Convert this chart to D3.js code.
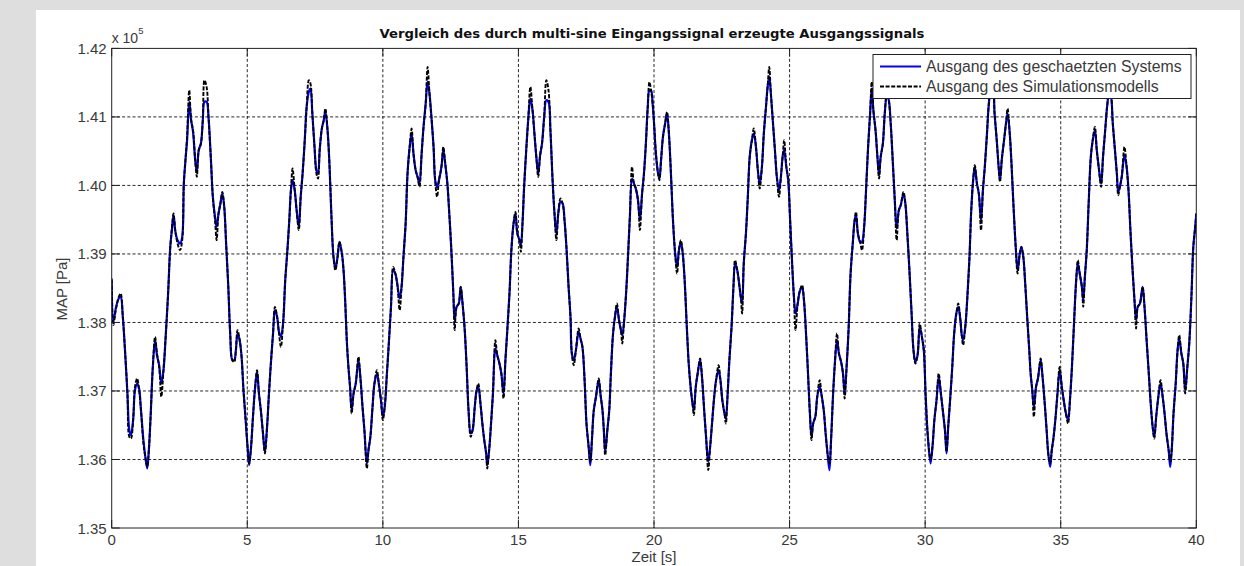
<!DOCTYPE html>
<html>
<head>
<meta charset="utf-8">
<script src="https://cdn.jsdelivr.net/npm/d3@7"></script>
<style>
body { margin: 0; background: #dedede; }
svg { display: block; }
</style>
</head>
<body>
<svg width="1244" height="566"></svg>
<script>
// Zeit [s]
var zeit = [
0.00,0.06,0.15,0.26,0.33,0.41,0.49,0.58,0.65,0.71,
0.79,0.86,0.94,1.01,1.08,1.17,1.24,1.31,1.37,1.44,
1.51,1.60,1.67,1.75,1.83,1.91,1.99,2.08,2.16,2.22,
2.28,2.35,2.43,2.52,2.60,2.66,2.72,2.78,2.86,2.93,
3.00,3.08,3.14,3.21,3.29,3.36,3.42,3.50,3.57,3.66,
3.73,3.81,3.87,3.94,4.01,4.08,4.15,4.22,4.30,4.37,
4.45,4.52,4.58,4.64,4.72,4.79,4.86,4.94,5.01,5.07,
5.14,5.21,5.28,5.36,5.43,5.50,5.58,5.65,5.73,5.80,
5.87,5.95,6.02,6.10,6.17,6.24,6.32,6.40,6.48,6.55,
6.61,6.67,6.75,6.82,6.90,6.97,7.04,7.12,7.19,7.27,
7.33,7.40,7.48,7.55,7.61,7.67,7.75,7.82,7.88,7.96,
8.03,8.10,8.18,8.25,8.33,8.40,
8.49,8.55,8.61,8.67,8.73,8.79,8.85,8.92,9.00,9.10,
9.17,9.25,9.32,9.41,9.47,9.54,9.62,9.69,9.78,9.85,
9.93,10.00,10.07,10.15,10.22,10.30,10.38,10.46,10.53,10.62,
10.69,10.76,10.84,10.91,10.99,11.06,11.13,11.21,11.28,11.35,
11.43,11.50,11.58,11.65,11.72,11.80,11.87,11.93,12.00,12.07,
12.16,12.23,12.30,12.38,12.45,12.52,12.60,12.65,12.72,12.80,
12.87,12.94,13.02,13.09,13.16,13.24,13.31,13.39,13.46,13.52,
13.60,13.67,13.74,13.81,13.85,13.92,13.99,14.06,14.15,14.22,
14.30,14.37,14.45,14.52,14.59,14.67,14.74,14.82,14.89,14.96,
15.04,15.09,15.15,15.21,15.28,15.36,15.44,15.52,15.59,15.66,
15.73,15.80,15.87,15.95,16.03,16.11,16.18,16.26,16.33,16.40,
16.47,16.55,16.63,16.70,16.77,16.85,16.92,
16.97,17.04,17.12,17.22,17.29,17.36,17.44,17.51,17.59,17.65,
17.71,17.78,17.86,17.96,18.03,18.10,18.15,18.20,18.28,18.35,
18.41,18.49,18.56,18.63,18.71,18.78,18.83,18.89,18.97,19.04,
19.11,19.19,19.26,19.33,19.41,19.48,19.56,19.63,19.70,19.77,
19.83,19.89,19.95,20.01,20.07,20.15,20.20,20.26,20.33,20.41,
20.48,20.55,20.63,20.70,20.78,20.85,20.92,20.99,21.06,21.13,
21.21,21.28,21.35,21.42,21.47,21.54,21.61,21.70,21.77,21.85,
21.92,22.00,22.07,22.14,22.22,22.29,22.38,22.45,22.52,22.60,
22.65,22.71,22.78,22.86,22.93,22.99,23.07,23.14,23.20,23.25,
23.31,23.39,23.46,23.53,23.61,23.68,23.76,23.83,23.90,23.98,
24.05,24.13,24.19,24.25,24.31,24.38,24.46,24.53,24.61,24.68,
24.75,24.80,24.88,24.95,25.02,25.10,25.16,25.22,25.30,25.37,
25.46,25.53,25.60,25.68,25.75,25.81,25.87,25.95,26.02,26.11,
26.18,26.26,26.33,26.40,26.47,26.53,26.60,26.67,26.75,26.82,
26.90,26.97,27.03,27.11,27.18,27.25,27.33,27.40,27.45,27.52,
27.60,27.67,27.75,27.82,27.89,27.97,28.03,28.09,28.17,28.24,
28.30,28.36,28.44,28.51,28.59,28.66,28.73,28.81,28.88,28.95,
29.03,29.10,29.20,29.27,29.35,29.42,29.50,29.57,29.64,29.72,
29.80,29.88,29.95,30.02,30.10,30.20,30.27,30.34,30.42,30.50,
30.58,30.65,30.73,30.79,30.85,30.92,31.00,31.07,31.15,31.22,
31.30,31.35,31.40,31.48,31.55,31.63,31.70,31.77,31.83,31.91,
31.98,32.06,32.13,32.20,32.28,32.35,32.43,32.49,32.56,32.64,
32.71,32.76,32.83,32.91,32.98,33.04,33.12,33.19,33.26,33.34,
33.41,33.49,33.55,33.62,33.69,33.77,33.84,
33.89,33.95,34.01,34.09,34.16,34.26,34.33,34.41,34.48,34.54,
34.61,34.67,34.73,34.80,34.88,34.96,35.04,35.11,35.18,35.27,
35.34,35.42,35.49,35.57,35.63,35.70,35.78,35.83,35.89,35.96,
36.03,36.11,36.18,36.26,36.33,36.40,36.49,36.56,36.64,36.71,
36.79,36.85,36.92,37.00,37.07,37.12,37.18,37.25,37.35,37.43,
37.50,37.57,37.65,37.72,37.78,37.84,37.92,38.02,38.09,38.16,
38.24,38.31,38.39,38.45,38.52,38.60,38.68,38.76,38.83,38.90,
38.98,39.04,39.10,39.16,39.24,39.31,39.37,39.45,39.52,39.59,
39.67,39.74,39.82,39.89,39.96,40.00
];

// Ausgang des geschaetzten Systems [Pa]
var ausgangSchaetz = [
138641,138009,138204,138350,138374,138082,137596,136963,136428,136355,
136574,137012,137109,137036,136720,136282,136039,135869,136136,136671,
137304,137741,137522,137376,137109,137304,137790,138422,139103,139347,
139566,139322,139201,139152,139249,140027,140368,140660,141219,140952,
140781,140368,140198,140514,140611,140952,141219,141219,141000,140368,
139833,139541,139395,139590,139736,139881,139687,139152,138519,137839,
137449,137449,137596,137839,137741,137498,137012,136574,136185,135917,
136185,136623,137012,137279,136963,136720,136379,136112,136477,136963,
137401,137839,138179,138082,137863,137790,137985,138617,139055,139493,
139930,140076,139930,139638,139395,139833,140173,140660,141146,141365,
141414,141049,140563,140222,140173,140514,140830,140952,141073,140806,
140319,139590,138957,138787,138957,139176,
139006,138763,138325,137741,137352,137061,136720,136963,137109,137449,
137206,136769,136428,135942,136136,136331,136769,137109,137255,137109,
136866,136623,136769,137255,137693,138228,138763,138714,138568,138350,
138519,138957,139444,140173,140563,140757,140465,140222,140125,140027,
140465,140854,141195,141511,141341,140952,140563,140076,139979,140076,
140270,140514,140319,140027,139590,139103,138422,138033,138228,138276,
138519,138276,137888,137352,136720,136379,136428,136769,137012,137061,
136817,136525,136282,136088,135917,136136,136525,136963,137620,137522,
137401,137255,136963,137449,137888,138422,139055,139444,139590,139298,
139201,139128,139444,139979,140465,140952,141268,141098,140757,140417,
140173,140441,140611,141000,141243,141219,140806,140076,139590,139298,
139590,139760,139736,139493,139103,138519,138082,
137547,137449,137596,137863,137766,137644,137158,136525,136185,135917,
136282,136720,136915,137158,136939,136720,136428,136112,136428,136720,
137255,137839,138082,138228,138033,137888,137815,137985,138422,138957,
139541,140100,140027,139954,139784,139493,139881,140173,140611,141146,
141389,141389,141195,140854,140465,140173,140100,140368,140708,140903,
141049,140757,140125,139493,139006,138811,139055,139176,139006,138617,
137936,137401,137061,136817,136720,137061,137255,137449,137206,136720,
136331,135966,136185,136525,136914,137158,137304,137158,136866,136671,
136599,136915,137449,137936,138519,138860,138763,138568,138374,138276,
138860,139298,139833,140417,140660,140757,140563,140222,140027,140270,
140757,141146,141438,141584,141341,140952,140514,140125,139930,140125,
140441,140514,140271,140076,139493,138811,138374,138131,138276,138447,
138519,138325,137888,137255,136671,136331,136525,136623,136915,137061,
136939,136720,136379,136088,135844,136282,136915,137401,137741,137547,
137425,137255,136963,137401,137936,138714,139152,139493,139566,139298,
139176,139176,139395,139930,140514,141049,141414,141098,140806,140417,
140149,140417,140611,141049,141316,141243,140903,140319,139784,139371,
139638,139711,139881,139736,139249,138763,138131,137596,137425,137522,
137936,137790,137596,136915,136331,135942,136185,136574,136866,137206,
136963,136720,136428,136088,136477,136866,137352,137839,138131,138228,
138033,137815,137741,137936,138325,138909,139638,140076,140271,140027,
139881,139493,139930,140271,140757,141195,141438,141438,141049,140660,
140271,140076,140392,140660,140903,141049,140757,140271,139687,139103,
138763,139006,139103,138957,138568,138033,137596,
137255,137012,136769,137061,137182,137449,137206,136817,136428,136088,
135893,136136,136306,136574,136963,137304,137061,136866,136696,136574,
136866,137401,137985,138617,138860,138714,138519,138325,138665,139055,
139736,140417,140660,140806,140514,140271,140027,140417,140806,141146,
141365,141316,140903,140514,140173,139906,139979,140125,140441,140271,
139930,139347,138763,138325,138033,138228,138276,138519,138228,137790,
137304,136866,136477,136331,136623,136915,137109,136915,136671,136379,
136136,135893,136185,136671,137109,137596,137766,137547,137401,137012,
137352,137693,138374,139103,139395,139590
];

// Ausgang des Simulationsmodells [Pa]
var ausgangSim = [
138617,137961,138179,138374,138422,138082,137596,136963,136331,136306,
136574,137061,137182,137012,136720,136233,136039,135893,136136,136671,
137304,137790,137547,137352,136915,137304,137790,138422,139103,139371,
139590,139322,139152,139055,139201,140027,140368,140708,141389,140952,
140806,140368,140125,140514,140611,140952,141535,141438,141000,140368,
139833,139493,139201,139590,139736,139906,139687,139152,138519,137839,
137449,137425,137596,137888,137741,137498,137012,136574,136185,135942,
136185,136623,137012,137304,136963,136720,136379,136088,136477,136963,
137401,137839,138228,138082,137839,137644,137985,138617,139055,139493,
139930,140246,139930,139638,139347,139833,140173,140660,141146,141535,
141487,141049,140563,140173,140100,140514,140830,140952,141122,140806,
140319,139590,138957,138763,138957,139176,
139006,138763,138325,137741,137352,137061,136671,136963,137109,137498,
137206,136769,136428,135869,136136,136331,136769,137109,137304,137109,
136866,136574,136769,137255,137693,138228,138811,138714,138568,138179,
138519,138957,139444,140173,140563,140830,140465,140222,140125,139979,
140465,140854,141195,141730,141341,140952,140563,140076,139833,140076,
140270,140563,140319,140027,139590,139103,138422,137888,138228,138276,
138519,138276,137888,137352,136720,136331,136428,136769,137012,137109,
136817,136525,136282,136088,135869,136136,136525,136963,137741,137522,
137401,137255,136890,137449,137888,138422,139055,139444,139614,139298,
139201,139030,139444,139979,140465,140952,141438,141098,140757,140417,
140125,140441,140611,141000,141535,141389,140806,140076,139590,139201,
139590,139809,139736,139493,139103,138519,138082,
137547,137376,137596,137912,137766,137644,137158,136525,136185,135966,
136282,136720,136915,137182,136939,136720,136428,136063,136428,136720,
137255,137839,138082,138276,138033,137888,137693,137985,138422,138957,
139541,140270,140027,139954,139784,139347,139881,140173,140611,141146,
141511,141389,141195,140854,140465,140173,140076,140368,140708,140903,
141073,140757,140125,139493,139006,138714,139055,139201,139006,138617,
137936,137401,137061,136817,136647,137061,137255,137474,137206,136720,
136331,135844,136185,136525,136914,137158,137376,137158,136866,136671,
136525,136915,137449,137936,138519,138909,138763,138568,138374,138131,
138860,139298,139833,140417,140660,140830,140563,140222,139954,140270,
140757,141146,141438,141730,141341,140952,140514,140125,139833,140125,
140441,140660,140271,140076,139493,138811,138374,137888,138276,138447,
138544,138325,137888,137255,136671,136282,136525,136623,136915,137158,
136939,136720,136379,136088,135942,136282,136915,137401,137839,137547,
137425,137255,136890,137401,137936,138714,139152,139493,139614,139298,
139176,139055,139395,139930,140514,141049,141511,141098,140806,140417,
140100,140417,140611,141049,141389,141243,140903,140319,139784,139201,
139638,139711,139906,139736,139249,138763,138131,137596,137401,137522,
137985,137790,137596,136915,136331,135990,136185,136574,136866,137255,
136963,136720,136428,136112,136477,136866,137352,137839,138131,138276,
138033,137815,137669,137936,138325,138909,139638,140076,140295,140027,
139881,139347,139930,140271,140757,141195,141438,141438,141049,140660,
140271,140052,140392,140660,140903,141122,140757,140271,139687,139103,
138714,139006,139103,138957,138568,138033,137596,
137255,137012,136623,137061,137182,137474,137206,136817,136428,136088,
135942,136136,136306,136574,136963,137352,137061,136866,136696,136525,
136866,137401,137985,138617,138909,138714,138519,138228,138665,139055,
139736,140417,140660,140854,140514,140271,139979,140417,140806,141146,
141365,141316,140903,140514,140173,139857,139979,140125,140563,140271,
139930,139347,138763,138325,137912,138228,138276,138519,138228,137790,
137304,136866,136477,136306,136623,136915,137158,136915,136671,136379,
136136,135966,136185,136671,137109,137596,137815,137547,137401,136963,
137352,137693,138374,139103,139395,139590
];

var xTicks = [0, 5, 10, 15, 20, 25, 30, 35, 40];
var yTicks = [135000, 136000, 137000, 138000, 139000, 140000, 141000, 142000];
var legendLabels = ["Ausgang des geschaetzten Systems", "Ausgang des Simulationsmodells"];

var svg = d3.select("svg");

var pLeft = 111.7, pRight = 1196.3, pTop = 48.4, pBottom = 528;

var x = d3.scaleLinear().domain([0, 40]).range([pLeft, pRight]);
var y = d3.scaleLinear().domain([135000, 142000]).range([pBottom, pTop]);

// figure background
svg.append("rect").attr("width", 1244).attr("height", 566).attr("fill", "#dedede");
svg.append("rect").attr("x", 36).attr("y", 10).attr("width", 1204).attr("height", 556).attr("fill", "#fff");

svg.append("defs").append("clipPath").attr("id", "plot")
    .append("rect")
    .attr("x", pLeft).attr("y", pTop)
    .attr("width", pRight - pLeft).attr("height", pBottom - pTop);

// grid
var grid = svg.append("g").attr("stroke", "#111").attr("stroke-width", 0.9)
    .attr("stroke-dasharray", "3,2.2");

grid.selectAll("line.v")
    .data(xTicks.slice(1, -1))
    .enter().append("line")
    .attr("x1", function (d) { return x(d); })
    .attr("x2", function (d) { return x(d); })
    .attr("y1", pTop).attr("y2", pBottom);

grid.selectAll("line.h")
    .data(yTicks.slice(1, -1))
    .enter().append("line")
    .attr("x1", pLeft).attr("x2", pRight)
    .attr("y1", function (d) { return y(d); })
    .attr("y2", function (d) { return y(d); });

// signals
var n = Math.min(zeit.length, ausgangSchaetz.length, ausgangSim.length);
var pts = d3.range(n).map(function (i) {
    return { t: zeit[i], b: ausgangSchaetz[i], k: ausgangSim[i] };
});

var lineB = d3.line()
    .x(function (d) { return x(d.t); })
    .y(function (d) { return y(d.b); })
    .curve(d3.curveCatmullRom);

var lineK = d3.line()
    .x(function (d) { return x(d.t); })
    .y(function (d) { return y(d.k); })
    .curve(d3.curveCatmullRom);

var plot = svg.append("g").attr("clip-path", "url(#plot)");

plot.append("path")
    .datum(pts)
    .attr("fill", "none")
    .attr("stroke", "#0000ff")
    .attr("stroke-width", 2.2)
    .attr("stroke-linejoin", "round")
    .attr("d", lineB);

plot.append("path")
    .datum(pts)
    .attr("fill", "none")
    .attr("stroke", "#000")
    .attr("stroke-width", 1.9)
    .attr("stroke-dasharray", "4,1.6")
    .attr("d", lineK);

// axes box and ticks
var axes = svg.append("g").attr("stroke", "#222").attr("stroke-width", 1);

axes.append("rect")
    .attr("x", pLeft).attr("y", pTop)
    .attr("width", pRight - pLeft).attr("height", pBottom - pTop)
    .attr("fill", "none");

xTicks.forEach(function (d) {
    axes.append("line").attr("x1", x(d)).attr("x2", x(d)).attr("y1", pBottom).attr("y2", pBottom - 8);
    axes.append("line").attr("x1", x(d)).attr("x2", x(d)).attr("y1", pTop).attr("y2", pTop + 8);
});
yTicks.forEach(function (d) {
    axes.append("line").attr("x1", pLeft).attr("x2", pLeft + 8).attr("y1", y(d)).attr("y2", y(d));
    axes.append("line").attr("x1", pRight).attr("x2", pRight - 8).attr("y1", y(d)).attr("y2", y(d));
});

var font = "Liberation Sans, Arial, sans-serif";

svg.append("g")
    .selectAll("text")
    .data(xTicks)
    .enter().append("text")
    .attr("x", function (d) { return x(d); })
    .attr("y", 545)
    .attr("text-anchor", "middle")
    .attr("font-family", font)
    .attr("font-size", 15)
    .attr("fill", "#3a3a3a")
    .text(function (d) { return d; });

svg.append("g")
    .selectAll("text")
    .data(yTicks)
    .enter().append("text")
    .attr("x", pLeft - 5)
    .attr("y", function (d) { return y(d) + 5.5; })
    .attr("text-anchor", "end")
    .attr("font-family", font)
    .attr("font-size", 15)
    .attr("fill", "#3a3a3a")
    .text(function (d) { return (d / 1e5).toFixed(2); });

// exponent
var ex = svg.append("text")
    .attr("x", pLeft)
    .attr("y", 42.5)
    .attr("font-family", font)
    .attr("font-size", 14)
    .attr("fill", "#3a3a3a");
ex.append("tspan").text("x 10");
ex.append("tspan").attr("font-size", 9.5).attr("dy", -9).text("5");

// labels
svg.append("text")
    .attr("x", 654)
    .attr("y", 562)
    .attr("text-anchor", "middle")
    .attr("font-family", font)
    .attr("font-size", 15)
    .attr("fill", "#3a3a3a")
    .text("Zeit [s]");

svg.append("text")
    .attr("transform", "translate(66.5,289) rotate(-90)")
    .attr("text-anchor", "middle")
    .attr("font-family", font)
    .attr("font-size", 15)
    .attr("fill", "#3a3a3a")
    .text("MAP [Pa]");

svg.append("text")
    .attr("x", 652)
    .attr("y", 37.5)
    .attr("text-anchor", "middle")
    .attr("font-family", "DejaVu Sans, sans-serif")
    .attr("font-weight", "bold")
    .attr("font-size", 12.5)
    .attr("textLength", 545)
    .attr("lengthAdjust", "spacingAndGlyphs")
    .attr("fill", "#111")
    .text("Vergleich des durch multi-sine Eingangssignal erzeugte Ausgangssignals");

// legend
var lg = svg.append("g").attr("transform", "translate(873,54.5)");

lg.append("rect")
    .attr("width", 318).attr("height", 44)
    .attr("fill", "#fff").attr("stroke", "#222").attr("stroke-width", 1);

lg.append("line")
    .attr("x1", 7).attr("x2", 48).attr("y1", 12).attr("y2", 12)
    .attr("stroke", "#0000ff").attr("stroke-width", 2.2);

lg.append("line")
    .attr("x1", 7).attr("x2", 48).attr("y1", 32).attr("y2", 32)
    .attr("stroke", "#000").attr("stroke-width", 1.9)
    .attr("stroke-dasharray", "4,1.6");

lg.selectAll("text.l")
    .data(legendLabels)
    .enter().append("text")
    .attr("x", 53)
    .attr("y", function (d, i) { return 17.5 + i * 20; })
    .attr("font-family", font)
    .attr("font-size", 15.8)
    .attr("fill", "#3a3a3a")
    .text(function (d) { return d; });
</script>
</body>
</html>
